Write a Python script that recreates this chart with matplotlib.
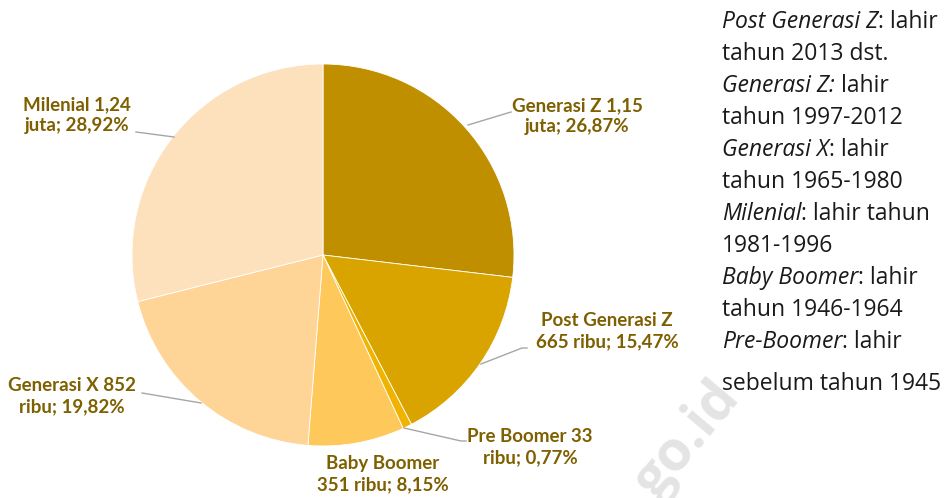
import matplotlib.pyplot as plt

# Data (persen per generasi, urut searah jarum jam dari atas)
generasi = ["Generasi Z", "Post Generasi Z", "Pre Boomer", "Baby Boomer", "Generasi X", "Milenial"]
persen = [26.87, 15.47, 0.77, 8.15, 19.82, 28.92]
label_teks = [
    "Generasi Z 1,15\njuta; 26,87%",
    "Post Generasi Z\n665 ribu; 15,47%",
    "Pre Boomer 33\nribu; 0,77%",
    "Baby Boomer\n351 ribu; 8,15%",
    "Generasi X 852\nribu; 19,82%",
    "Milenial 1,24\njuta; 28,92%",
]
warna = ["#BF8F00", "#DAA400", "#F0B400", "#FFC85A", "#FED596", "#FDE0BC"]

# keterangan di kanan: (bagian miring, bagian biasa)
keterangan = [
    ("Post Generasi Z", ": lahir"),
    ("", "tahun 2013 dst."),
    ("Generasi Z:", " lahir"),
    ("", "tahun 1997-2012"),
    ("Generasi X", ": lahir"),
    ("", "tahun 1965-1980"),
    ("Milenial", ": lahir tahun"),
    ("", "1981-1996"),
    ("Baby Boomer", ": lahir"),
    ("", "tahun 1946-1964"),
    ("Pre-Boomer", ": lahir"),
    ("", "sebelum tahun 1945"),
]

W, H = 953, 498
fig = plt.figure(figsize=(W / 100, H / 100), dpi=100)

cx, cy, r = 323, 255, 191
ax = fig.add_axes([(cx - r) / W, (H - cy - r) / H, 2 * r / W, 2 * r / H])
ax.pie(persen, colors=warna, startangle=90, counterclock=False, radius=1,
       wedgeprops=dict(edgecolor="white", linewidth=0.6))
ax.set_xlim(-1, 1)
ax.set_ylim(-1, 1)
ax.axis("off")


def px(x, y):
    return ((x - cx) / r, (cy - y) / r)


# posisi label (pixel) dan garis penunjuk
pos_label = [(577, 116), (607, 331), (530, 447), (383, 474), (72, 396), (77, 115)]
garis = [
    [(468, 125), (511, 112)],
    [(481, 364), (522, 348), (527, 348)],
    [(404, 428), (461, 441), (466, 441)],
    None,
    [(142, 393), (201, 403)],
    [(136, 132), (174, 137)],
]

for teks, (lx, ly), g in zip(label_teks, pos_label, garis):
    tx, ty = px(lx, ly)
    ax.text(tx, ty, teks, ha="center", va="center", fontsize=13.5, fontweight="bold",
            color="#7F6000", family="Lato", linespacing=1.3, clip_on=False)
    if g:
        xs, ys = zip(*[px(a, b) for a, b in g])
        ax.plot(xs, ys, color="#A6A6A6", lw=1, clip_on=False)

# watermark samar
fig.text(688 / W, 1 - 440 / H, "go.id", rotation=50, ha="center", va="center",
         fontsize=40, fontweight="bold", color="#E4E4E4", family="Open Sans", zorder=0)

# keterangan kanan
y0 = 22
for i, (miring, biasa) in enumerate(keterangan):
    yy = y0 + i * 32 + (10 if i == len(keterangan) - 1 else 0)
    xf, yf = 722 / W, 1 - yy / H
    if miring:
        t = fig.text(xf, yf, miring, fontsize=16.5, style="italic", color="#1A1A1A",
                     family="Open Sans", va="center", ha="left")
        fig.canvas.draw()
        bb = t.get_window_extent()
        fig.text(bb.x1 / W, yf, biasa, fontsize=16.5, color="#1A1A1A",
                 family="Open Sans", va="center", ha="left")
    else:
        fig.text(xf, yf, biasa, fontsize=16.5, color="#1A1A1A",
                 family="Open Sans", va="center", ha="left")

fig.savefig("out.png", dpi=100)
